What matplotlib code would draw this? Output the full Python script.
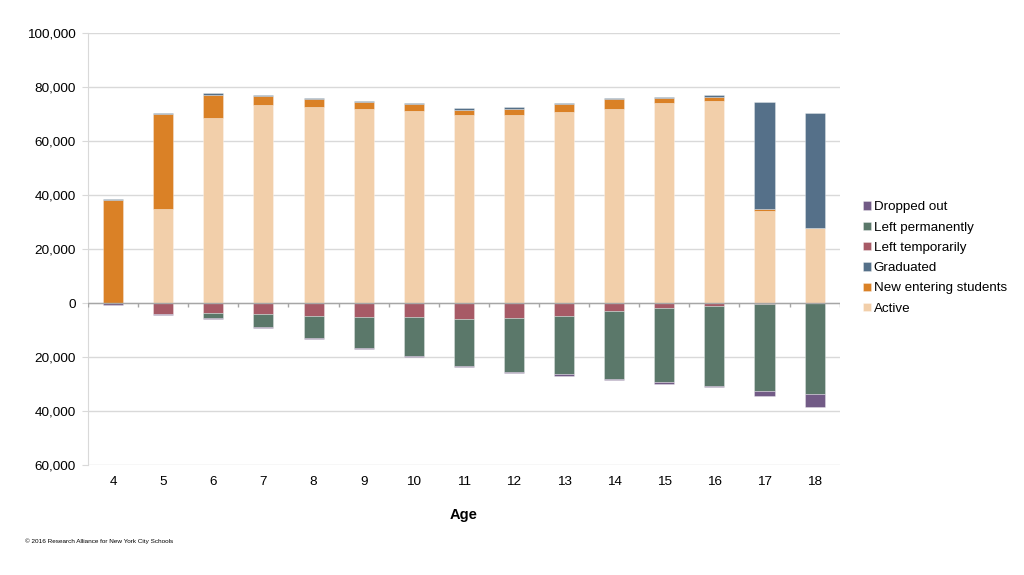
import numpy as np
import matplotlib.pyplot as plt

plt.rcParams['font.family'] = ['Liberation Sans', 'DejaVu Sans']

# data (students)
ages = [4, 5, 6, 7, 8, 9, 10, 11, 12, 13, 14, 15, 16, 17, 18]
active = [0, 34800, 68400, 73200, 72600, 71700, 71100, 69500, 69600, 70900, 71700, 74200, 74800, 34000, 27800]
new_entering = [38300, 35100, 8800, 3300, 2800, 2700, 2500, 2100, 2400, 2700, 3900, 1700, 1600, 900, 0]
graduated = [400, 400, 400, 500, 400, 400, 400, 500, 500, 400, 400, 400, 500, 39600, 42400]
left_temp = [0, 4200, 3700, 4200, 4800, 5300, 5300, 5900, 5700, 4900, 2800, 2000, 1100, 200, 0]
left_perm = [0, 0, 2000, 4800, 8300, 11500, 14300, 17400, 19800, 21500, 25200, 27400, 29500, 32300, 33800]
dropped = [600, 300, 300, 300, 300, 400, 400, 500, 600, 500, 600, 600, 600, 2000, 4600]

colors = {
    'Active': '#F2CFAA',
    'New entering students': '#DA8126',
    'Graduated': '#557089',
    'Left temporarily': '#A75A66',
    'Left permanently': '#5B786A',
    'Dropped out': '#725B86',
}

x = np.arange(len(ages))
w = 0.4

fig = plt.figure(figsize=(10.24, 5.75), dpi=100)
ax = fig.add_axes([0.086, 0.1913, 0.734, 0.7513])

active = np.array(active)
new_entering = np.array(new_entering)
graduated = np.array(graduated)
left_temp = np.array(left_temp)
left_perm = np.array(left_perm)
dropped = np.array(dropped)

kw = dict(width=w, edgecolor=(1, 1, 1, 0.35), linewidth=0.6, zorder=3)
b_act = ax.bar(x, active, color=colors['Active'], **kw)
b_new = ax.bar(x, new_entering, bottom=active, color=colors['New entering students'], **kw)
b_grad = ax.bar(x, graduated, bottom=active + new_entering, color=colors['Graduated'], **kw)
b_lt = ax.bar(x, -left_temp, color=colors['Left temporarily'], **kw)
b_lp = ax.bar(x, -left_perm, bottom=-left_temp, color=colors['Left permanently'], **kw)
b_do = ax.bar(x, -dropped, bottom=-(left_temp + left_perm), color=colors['Dropped out'], **kw)

ax.set_xlim(-0.5, len(ages) - 0.5)
ax.set_ylim(-60000, 100000)
yt = np.arange(-60000, 100001, 20000)
ax.set_yticks(yt)
ax.set_yticklabels([f'{abs(v):,}' for v in yt], fontsize=9.7)
ax.set_xticks(x)
ax.set_xticklabels([str(a) for a in ages], fontsize=9.7)
ax.tick_params(axis='x', length=0, pad=8)
ax.tick_params(axis='y', length=4, color='#D9D9D9', pad=5)

ax.grid(axis='y', color='#D9D9D9', linewidth=1, zorder=0)
for s in ['top', 'right', 'bottom']:
    ax.spines[s].set_visible(False)
ax.spines['left'].set_color('#D9D9D9')

# zero axis line with category-boundary tick marks
ax.axhline(0, color='#A6A6A6', linewidth=1, zorder=4)
ax.vlines(np.arange(len(ages) + 1) - 0.5, -1300, 0, color='#A6A6A6', linewidth=1, zorder=4)

ax.set_xlabel('Age', fontsize=10.5, fontweight='bold', labelpad=14)

handles = [b_do, b_lp, b_lt, b_grad, b_new, b_act]
labels = ['Dropped out', 'Left permanently', 'Left temporarily', 'Graduated',
          'New entering students', 'Active']
ax.legend(handles, labels, loc='center left', bbox_to_anchor=(1.024, 0.479),
          frameon=False, fontsize=9.6, handlelength=0.6, handleheight=0.6,
          handletextpad=0.2, labelspacing=0.62, borderaxespad=0)

fig.text(0.024, 0.056, '\u00a9 2016 Research Alliance for New York City Schools', fontsize=4.6)

fig.savefig('out.png', dpi=100)
